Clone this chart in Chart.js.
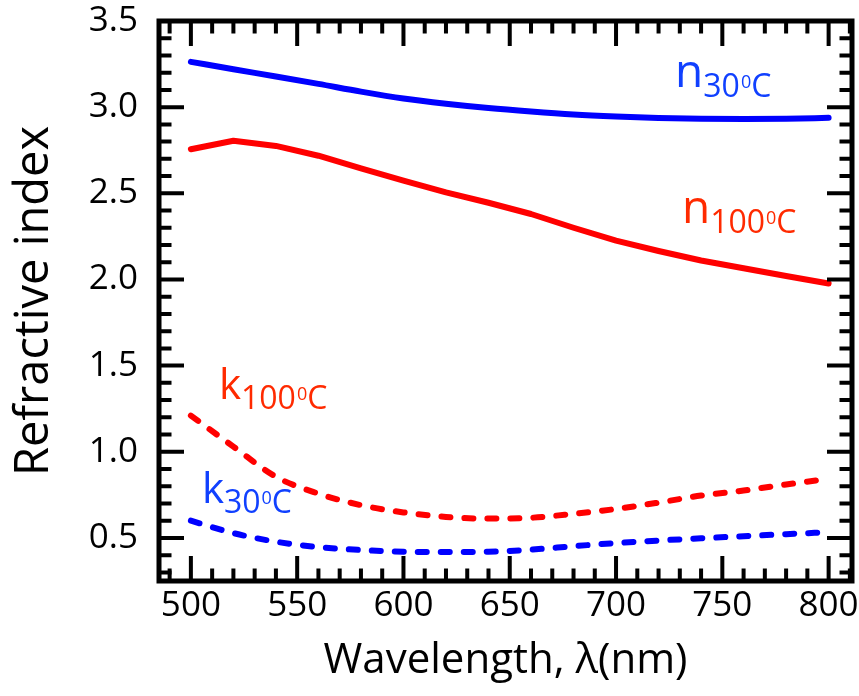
<!DOCTYPE html>
<html><head><meta charset="utf-8">
<script src="https://cdn.jsdelivr.net/npm/chart.js@4/dist/chart.umd.min.js"></script>
<style>html,body{margin:0;padding:0;background:#fff}#wrap{width:859px;height:696px}</style>
</head><body><div id="wrap"><canvas id="c" width="859" height="696"></canvas></div>
<script>
// ---- data ----
const wavelengths = [500,520,540,560,580,600,620,640,660,680,700,720,740,760,780,800];
const n30  = [3.263,3.220,3.178,3.135,3.090,3.050,3.020,2.995,2.975,2.958,2.946,2.937,2.932,2.931,2.933,2.938];
const n100 = [2.756,2.805,2.775,2.718,2.645,2.574,2.505,2.445,2.380,2.300,2.225,2.165,2.110,2.065,2.020,1.977];
const k100 = [1.210,1.030,0.855,0.757,0.690,0.648,0.622,0.612,0.617,0.640,0.668,0.705,0.746,0.775,0.810,0.843];
const k30  = [0.600,0.528,0.478,0.447,0.430,0.420,0.418,0.420,0.432,0.452,0.470,0.485,0.498,0.510,0.522,0.533];

const xMajorTicks = [500,550,600,650,700,750,800];
const xMinorTicks = [490,510,520,530,540,560,570,580,590,610,620,630,640,660,670,680,690,710,720,730,740,760,770,780,790,810];
const yMajorTicks = [0.5,1.0,1.5,2.0,2.5,3.0,3.5];
const yMinorTicks = [0.3,0.4,0.6,0.7,0.8,0.9,1.1,1.2,1.3,1.4,1.6,1.7,1.8,1.9,2.1,2.2,2.3,2.4,2.6,2.7,2.8,2.9,3.1,3.2,3.3,3.4];

const xTitle = 'Wavelength, λ(nm)';
const yTitle = 'Refractive index';

// curve annotations: main letter, subscript, anchor (wavelength, index)
const annotations = [
  {main:'n', sub:'30',  color:'#1040ff', at:[729.2,3.117], mainSize:46},
  {main:'n', sub:'100', color:'#ff2a00', at:[732.4,2.328], mainSize:46},
  {main:'k', sub:'100', color:'#ff2a00', at:[514.6,1.306], mainSize:42},
  {main:'k', sub:'30',  color:'#1040ff', at:[506.6,0.703], mainSize:42}
];

const toXY = arr => wavelengths.map((w,i)=>({x:w,y:arr[i]}));
const FONT = '"Open Sans", "Noto Sans", sans-serif';

const frameTicks = {
  id:'frameTicks',
  afterDatasetsDraw(chart){
    const {ctx, chartArea:a, scales:{x,y}} = chart;
    ctx.save();
    ctx.strokeStyle='#000';
    ctx.lineCap='butt';
    ctx.lineWidth=4;
    const xt = (v,len)=>{const p=x.getPixelForValue(v);
      ctx.beginPath();ctx.moveTo(p,a.bottom);ctx.lineTo(p,a.bottom-len);
      ctx.moveTo(p,a.top);ctx.lineTo(p,a.top+len);ctx.stroke();};
    const yt = (v,len)=>{const p=y.getPixelForValue(v);
      ctx.beginPath();ctx.moveTo(a.left,p);ctx.lineTo(a.left+len,p);
      ctx.moveTo(a.right,p);ctx.lineTo(a.right-len,p);ctx.stroke();};
    xMajorTicks.forEach(v=>xt(v,25));
    xMinorTicks.forEach(v=>xt(v,12.5));
    yMajorTicks.forEach(v=>yt(v,25));
    yMinorTicks.forEach(v=>yt(v,12.5));
    ctx.lineWidth=5;
    ctx.strokeRect(a.left,a.top,a.right-a.left,a.bottom-a.top);

    // annotations
    ctx.textBaseline='alphabetic';
    ctx.textAlign='left';
    annotations.forEach(an=>{
      let px = x.getPixelForValue(an.at[0]) - 3;
      const py = y.getPixelForValue(an.at[1]);
      ctx.fillStyle = an.color;
      ctx.font = an.mainSize+'px '+FONT;
      ctx.fillText(an.main, px, py); px += ctx.measureText(an.main).width;
      ctx.font = '32px '+FONT;
      ctx.fillText(an.sub, px, py+10); px += ctx.measureText(an.sub).width + 1;
      ctx.font = '18px '+FONT;
      ctx.fillText('0', px, py+1); px += ctx.measureText('0').width;
      ctx.font = '32px '+FONT;
      ctx.fillText('C', px, py+10);
    });
    ctx.restore();
  }
};

new Chart(document.getElementById('c'), {
  type:'line',
  data:{datasets:[
    {label:'n30', data:toXY(n30), borderColor:'#0000ff', borderWidth:6, cubicInterpolationMode:'monotone', borderCapStyle:'round', borderJoinStyle:'round', pointRadius:0},
    {label:'n100', data:toXY(n100), borderColor:'#ff0000', borderWidth:6, tension:0, borderCapStyle:'round', borderJoinStyle:'round', pointRadius:0},
    {label:'k100', data:toXY(k100), borderColor:'#ff0000', borderWidth:6, cubicInterpolationMode:'monotone', borderDash:[9,14], borderCapStyle:'round', borderJoinStyle:'round', pointRadius:0},
    {label:'k30', data:toXY(k30), borderColor:'#0000ff', borderWidth:6, cubicInterpolationMode:'monotone', borderDash:[9,14], borderCapStyle:'round', borderJoinStyle:'round', pointRadius:0}
  ]},
  options:{
    responsive:false, animation:false, devicePixelRatio:1,
    layout:{padding:{top:21,right:7,left:0,bottom:0}},
    plugins:{legend:{display:false}, tooltip:{enabled:false}},
    scales:{
      x:{type:'linear', min:485, max:811,
        afterBuildTicks:s=>{s.ticks = xMajorTicks.map(v=>({value:v}));},
        afterFit:s=>{s.height=115; s.paddingLeft=0; s.paddingRight=0;},
        grid:{display:false, drawTicks:false}, border:{display:false},
        ticks:{color:'#000', padding:4, maxRotation:0, autoSkip:false, font:{family:FONT,size:35}, callback:v=>String(v)},
        title:{display:true, text:xTitle, color:'#000', font:{family:FONT,size:42}, padding:{top:0,bottom:10}}
      },
      y:{type:'linear', min:0.25, max:3.5,
        afterBuildTicks:s=>{s.ticks = yMajorTicks.map(v=>({value:v}));},
        afterFit:s=>{s.width=159; s.paddingTop=0; s.paddingBottom=0;},
        grid:{display:false, drawTicks:false}, border:{display:false},
        ticks:{color:'#000', padding:21, autoSkip:false, font:{family:FONT,size:35}, callback:v=>Number(v).toFixed(1)},
        title:{display:true, text:yTitle, color:'#000', font:{family:FONT,size:47}, padding:{top:6,bottom:0}}
      }
    }
  },
  plugins:[frameTicks]
});
</script></body></html>
